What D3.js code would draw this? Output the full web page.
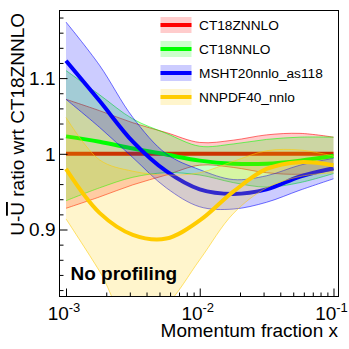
<!DOCTYPE html>
<html>
<head>
<meta charset="utf-8">
<script src="https://cdnjs.cloudflare.com/ajax/libs/d3/7.8.5/d3.min.js"></script>
<style>
  body { margin: 0; background: #fff; }
</style>
</head>
<body>
<svg id="chart"></svg>
<script>
// x sampling points (momentum fraction)
const xs = [0.001, 0.00178, 0.00316, 0.00562, 0.01, 0.0178, 0.0316, 0.0562, 0.1];

const names = ["CT18ZNNLO", "CT18NNLO", "MSHT20nnlo_as118", "NNPDF40_nnlo"];

const ct18zMid = [1, 1, 1, 1, 1, 1, 1, 1, 1];
const ct18zUp  = [1.072, 1.057, 1.041, 1.028, 1.015, 1.018, 1.025, 1.027, 1.022];
const ct18zLo  = [0.928, 0.943, 0.959, 0.972, 0.985, 0.982, 0.975, 0.973, 0.978];

const ct18Mid = [1.023, 1.016, 1.007, 0.999, 0.991, 0.987, 0.987, 0.991, 0.997];
const ct18Up  = [1.110, 1.078, 1.046, 1.027, 1.010, 1.013, 1.019, 1.022, 1.022];
const ct18Lo  = [0.938, 0.955, 0.969, 0.975, 0.972, 0.962, 0.956, 0.962, 0.974];

const mshtMid = [1.123, 1.070, 1.016, 0.977, 0.953, 0.947, 0.953, 0.970, 0.981];
const mshtUp  = [1.174, 1.117, 1.048, 1.000, 0.979, 0.966, 0.971, 0.985, 0.994];
const mshtLo  = [1.072, 1.035, 0.995, 0.955, 0.930, 0.927, 0.936, 0.952, 0.967];

const nnpdfMid = [0.980, 0.922, 0.893, 0.888, 0.912, 0.950, 0.980, 0.989, 0.985];
const nnpdfUp  = [1.048, 0.992, 0.977, 0.972, 0.975, 0.990, 1.004, 1.005, 0.997];
const nnpdfLo  = [0.914, 0.845, 0.770, 0.800, 0.860, 0.921, 0.955, 0.970, 0.975];

const yMajor = [0.9, 1, 1.1];
const yMajorLabels = ["0.9", "1", "1.1"];
const xMajor = [0.001, 0.01, 0.1];
const xMajorExp = ["-3", "-2", "-1"];

const colors = ["#ff0000", "#00ff00", "#0000ff", "#ffcc00"];
const font = "Liberation Sans";

const series = [
  {mid: ct18zMid, up: ct18zUp, lo: ct18zLo},
  {mid: ct18Mid, up: ct18Up, lo: ct18Lo},
  {mid: mshtMid, up: mshtUp, lo: mshtLo},
  {mid: nnpdfMid, up: nnpdfUp, lo: nnpdfLo}
];

let width = 349, height = 349,
    pLeft = 59.5, pRight = 338.5, pTop = 10.5, pBottom = 296.5;

let x = d3.scaleLog().domain([Math.pow(10, -3.0486), Math.pow(10, -0.9626)]).range([pLeft, pRight]),
    y = d3.scaleLinear().domain([0.8115, 1.1893]).range([pBottom, pTop]);

let svg = d3.select("#chart").attr("width", width).attr("height", height)
    .attr("font-family", font);

svg.append("rect").attr("width", width).attr("height", height).attr("fill", "#fff");

svg.append("clipPath").attr("id", "plot")
  .append("rect").attr("x", pLeft).attr("y", pTop).attr("width", pRight - pLeft).attr("height", pBottom - pTop);

let g = svg.append("g").attr("clip-path", "url(#plot)");

let line = arr => d3.line()
    .x((d, i) => x(xs[i]))
    .y(d => y(d))
    .curve(d3.curveCatmullRom.alpha(0.5))(arr);

let area = (lo, up) => d3.area()
    .x((d, i) => x(xs[i]))
    .y0((d, i) => y(lo[i]))
    .y1((d, i) => y(up[i]))
    .curve(d3.curveCatmullRom.alpha(0.5))(xs);

// band, band edges, central line for each set
series.forEach((s, k) => {
  g.append("path").attr("d", area(s.lo, s.up))
    .attr("fill", colors[k]).attr("fill-opacity", 0.2);
  g.append("path").attr("d", line(s.up))
    .attr("fill", "none").attr("stroke", colors[k]).attr("stroke-width", 0.8).attr("stroke-opacity", 0.7);
  g.append("path").attr("d", line(s.lo))
    .attr("fill", "none").attr("stroke", colors[k]).attr("stroke-width", 0.8).attr("stroke-opacity", 0.7);
  g.append("path").attr("d", line(s.mid))
    .attr("fill", "none").attr("stroke", colors[k]).attr("stroke-width", 4);
});

// frame
svg.append("rect").attr("x", pLeft).attr("y", pTop).attr("width", pRight - pLeft).attr("height", pBottom - pTop)
  .attr("fill", "none").attr("stroke", "#000").attr("stroke-width", 1);

// x axis ticks (inward)
let xMinor = [];
[0.001, 0.01].forEach(d => { for (let m = 2; m <= 9; m++) xMinor.push(d * m); });

svg.append("g").attr("transform", `translate(0,${pBottom})`)
  .call(d3.axisBottom(x).tickValues(xMinor).tickSize(-4).tickFormat(""))
  .call(a => a.select(".domain").remove());
svg.append("g").attr("transform", `translate(0,${pBottom})`)
  .call(d3.axisBottom(x).tickValues(xMajor).tickSize(-8).tickFormat(""))
  .call(a => a.select(".domain").remove());

// y axis ticks
let yMinor = d3.range(0.82, 1.19, 0.02).filter(v => !yMajor.some(m => Math.abs(m - v) < 1e-6));
svg.append("g").attr("transform", `translate(${pLeft},0)`)
  .call(d3.axisLeft(y).tickValues(yMinor).tickSize(-4).tickFormat(""))
  .call(a => a.select(".domain").remove());
svg.append("g").attr("transform", `translate(${pLeft},0)`)
  .call(d3.axisLeft(y).tickValues(yMajor).tickSize(-8).tickFormat(""))
  .call(a => a.select(".domain").remove());

svg.selectAll(".tick line").attr("stroke", "#000");

// tick labels
yMajor.forEach((v, i) => {
  svg.append("text").attr("x", 55.5).attr("y", y(v)).attr("dy", "0.36em")
    .attr("text-anchor", "end").attr("font-size", 19).text(yMajorLabels[i]);
});

xMajor.forEach((v, i) => {
  let t = svg.append("text").attr("x", x(v) - 2).attr("y", 320)
    .attr("text-anchor", "middle").attr("font-size", 19);
  t.append("tspan").text("10");
  t.append("tspan").attr("dy", -8).attr("font-size", 13).text(xMajorExp[i]);
});

// axis titles
svg.append("text").attr("x", 338).attr("y", 337)
  .attr("text-anchor", "end").attr("font-size", 19).text("Momentum fraction x");

let yt = svg.append("text").attr("transform", "translate(24,13) rotate(-90)")
  .attr("text-anchor", "end").attr("font-size", 19);
yt.append("tspan").text("U-");
yt.append("tspan").style("text-decoration", "overline").text("U");
yt.append("tspan").text(" ratio wrt CT18ZNNLO");

// label
svg.append("text").attr("x", 70.5).attr("y", 280)
  .attr("font-size", 19).attr("font-weight", "bold").text("No profiling");

// legend
names.forEach((n, k) => {
  let cy = 25 + k * 24;
  svg.append("rect").attr("x", 160.5).attr("y", cy - 8).attr("width", 31).attr("height", 16)
    .attr("fill", colors[k]).attr("fill-opacity", 0.2);
  svg.append("line").attr("x1", 160.5).attr("x2", 191.5).attr("y1", cy).attr("y2", cy)
    .attr("stroke", colors[k]).attr("stroke-width", 4);
  svg.append("text").attr("x", 199).attr("y", cy).attr("dy", "0.36em")
    .attr("font-size", 13.7).text(n);
});
</script>
</body>
</html>
